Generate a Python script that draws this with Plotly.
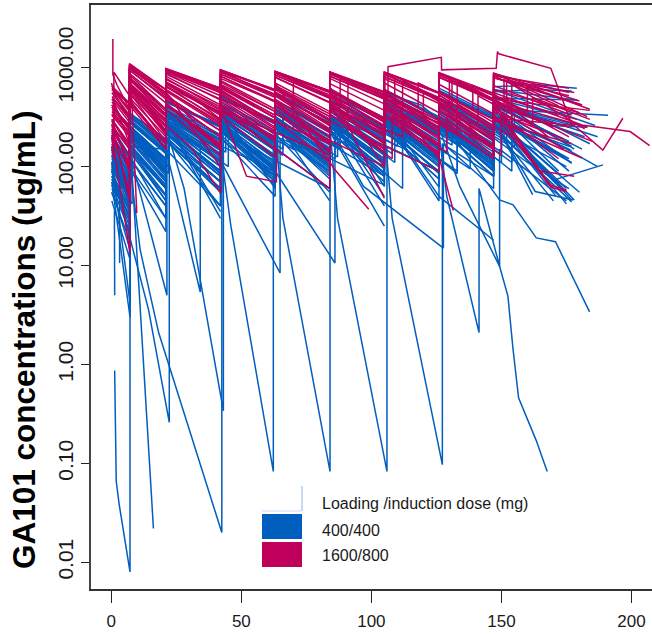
import plotly.graph_objects as go

# GA101 serum concentration-time profiles, one flat list per patient:
# [day, ug/mL, day, ug/mL, ...]

# 400/400 mg cohort, patients following the regular dosing pattern
blue_standard = [
    [0.2,180, 7,80, 7,320, 21,170, 21,400, 42,200, 42,430, 63,220, 63,450, 84,220, 84,460, 105,230, 105,470, 126,230, 126,480, 147,240, 147,490, 179,470],
    [0.3,120, 7,70, 7,220, 21,95, 21,300, 42,150, 42,340, 84,120, 84,330, 113,150, 113,350, 134,160, 134,360, 155,160, 155,360, 178,150],
    [0.1,90, 7,35, 7,210, 21,90, 21,270, 42,110, 42,300, 63,125, 63,310, 84,130, 84,320, 105,135, 105,320, 126,130, 126,330, 147,140, 147,330, 177,46],
    [0.5,230, 7,120, 7,320, 21,180, 21,450, 42,260, 42,520, 63,290, 63,560, 84,300, 84,580, 105,310, 105,600, 126,320, 126,620, 147,330, 147,640, 164,670, 179,620],
    [0.2,70, 7,28, 7,140, 21,50, 21,220, 42,80, 42,250, 63,95, 63,270, 84,100, 84,280, 105,105, 105,290, 133,90, 133,280, 154,110, 154,300, 177,108],
    [0.4,150, 7,60, 7,280, 21,135, 21,360, 42,170, 42,390, 63,190, 63,410, 84,195, 84,420, 105,200, 105,420, 126,205, 126,430, 147,210, 147,430, 183,250],
    [1,200, 7,100, 7,260, 14,160, 21,85, 21,300, 42,130, 42,330, 63,150, 63,350, 84,155, 84,360, 105,160, 105,370, 126,165, 126,370, 147,170, 147,380, 191,330],
    [0.3,100, 7,50, 7,185, 21,70, 21,260, 42,100, 42,280, 63,110, 63,290, 84,115, 84,300, 105,120, 105,310, 126,125, 126,310, 150,110, 150,300, 177,145],
    [0.2,160, 7,70, 7,290, 21,145, 21,350, 42,170, 42,380, 63,60, 63,280, 84,140, 84,330, 105,150, 105,350, 126,160, 126,360, 147,165, 147,370, 170,73, 189,104],
    [0.6,60, 7,33, 7,160, 21,60, 21,230, 42,80, 42,250, 63,90, 63,260, 84,95, 84,270, 105,95, 105,280, 126,100, 126,280, 147,100, 147,290, 163,56, 177.5,46],
    [0.2,210, 7,110, 7,310, 21,180, 21,450, 42,250, 42,500, 63,270, 63,530, 84,280, 84,540, 105,290, 105,560, 119,420, 126,300, 126,580, 147,310, 147,600, 179,470],
    [0.2,130, 7,50, 7,240, 21,105, 21,300, 42,35],
    [0.3,85, 7,38, 7,170, 21,60, 21,250, 42,90, 42,270, 63,100, 63,290, 84,45],
    [0.1,110, 7,55, 7,195, 14,120, 21,75, 21,280, 42,115, 42,300, 63,125, 63,320, 84,135, 84,330, 105,140, 105,340, 126,62, 126,280, 147,130, 147,330, 175,42],
    [0.4,175, 7,95, 7,280, 21,140, 21,400, 42,200, 42,430, 63,220, 63,450, 84,230, 84,460, 98,320, 105,235, 105,470, 126,240, 126,480, 147,240, 147,490, 172,330],
    [0.2,95, 7,20, 7,160, 21,45, 21,200, 42,60, 42,220, 84,60, 84,230, 105,70, 105,240, 126,75, 126,250, 147,80, 147,250, 175,100],
    [0.5,140, 7,70, 7,225, 21,95, 21,320, 42,145, 42,350, 63,160, 63,370, 84,170, 84,380, 105,175, 105,390, 126,180, 126,400, 140,260, 147,200, 147,420, 182,200],
    [0.2,45, 7,12, 7,130, 21,30, 21,190, 42,40, 42,200, 63,50, 63,215, 84,55, 84,225, 105,25],
    [0.3,250, 7,130, 7,350, 21,190, 21,460, 42,260, 42,520, 63,290, 63,550, 84,300, 84,570, 105,310, 105,580, 126,310, 126,590, 147,320, 147,600, 186,260],
    [0.2,75, 7,25, 7,150, 21,60, 21,215, 42,70, 42,240, 63,80, 63,250, 84,85, 84,260, 112,60, 112,240, 133,85, 133,250, 154,90, 154,260, 172,90],
    [1,190, 7,90, 7,330, 21,160, 21,380, 42,180, 42,400, 63,195, 63,410, 84,200, 84,420, 105,205, 105,430, 126,210, 126,430, 147,215, 147,440, 177,160],
    [0.2,125, 7,58, 7,215, 21,80, 21,290, 42,120, 42,310, 63,130, 63,320, 84,135, 84,330, 105,140, 105,340, 119,210, 126,145, 126,345, 147,150, 147,350, 170,140],
    [0.4,165, 7,80, 7,245, 21,115, 21,340, 42,165, 42,370, 70,150, 70,380, 91,180, 91,400, 112,190, 112,410, 133,195, 133,420, 154,200, 154,420, 184,170],
    [0.1,55, 7,18, 7,120, 21,40, 21,190, 42,55, 42,210, 63,65, 63,225, 105,65, 105,230, 126,75, 126,240, 147,80, 147,245, 177,44],
    [0.2,200, 7,95, 7,340, 21,170, 21,420, 42,210, 42,450, 63,230, 63,470, 84,235, 84,480, 105,240, 105,490, 126,245, 126,500, 147,250, 147,510, 164,320, 178,260],
    [0.3,140, 7,68, 7,235, 21,100, 21,340, 42,150, 42,370, 63,170, 63,390, 84,175, 84,400, 98,250, 105,175, 105,400, 126,180, 126,410, 147,185, 147,410, 176,180],
    [0.2,105, 7,48, 7,215, 21,88, 21,290, 42,30],
    [0.5,170, 7,85, 7,320, 21,155, 21,370, 42,180, 42,400, 63,190, 63,410, 84,195, 84,420, 105,63, 105,300, 126,150, 126,370, 147,170, 147,390, 187,100],
    [0.2,80, 7,36, 7,165, 21,62, 21,250, 42,90, 42,270, 63,100, 63,290, 84,105, 84,300, 105,110, 105,305, 126,110, 126,310, 147,115, 147,315, 171,50],
    [0.1,240, 7,125, 7,340, 21,190, 21,460, 42,250, 42,500, 63,270, 63,520, 84,280, 84,540, 105,290, 105,550, 126,290, 126,560, 147,300, 147,570, 164,600, 177,580],
    [0.3,115, 7,46, 7,220, 21,90, 21,265, 42,100, 42,290, 63,105, 63,300, 84,110, 84,310, 105,115, 105,315, 126,45, 126,260, 147,100, 147,300, 162,52],
    [0.2,150, 7,40, 7,220, 21,70, 21,260, 42,85, 42,280, 63,95, 63,290, 84,100, 84,300, 126,90, 126,290, 147,105, 147,300, 177,110],
    [0.6,185, 7,100, 7,280, 21,140, 21,380, 42,190, 42,410, 63,200, 63,420, 84,205, 84,430, 105,210, 105,440, 126,215, 126,450, 147,220, 147,460, 169,260, 183,250],
    [0.2,65, 7,22, 7,150, 21,52, 21,215, 42,70, 42,235, 63,75, 63,245, 84,80, 84,255, 105,85, 105,260, 126,88, 126,265, 147,90, 147,270, 163,120, 178,46],
    [0.3,135, 7,58, 7,235, 22,100, 22,310, 44,140, 44,330, 66,150, 66,340, 88,155, 88,350, 110,160, 110,360, 131,165, 131,365, 152,170, 152,370, 181,150],
    [0.2,95, 8,42, 8,200, 22,85, 22,270, 43,110, 43,290, 64,115, 64,300, 86,120, 86,310, 109,110, 109,300, 138,95, 138,290, 160,110, 176,60],
    [0.3,150, 7,75, 7,250, 21,120, 21,330, 42,160, 42,360, 63,175, 63,380, 88,150, 88,370, 109,190, 109,390, 130,195, 130,400, 151,200, 151,410, 187,200],
    [0.2,110, 7,50, 7,200, 21,85, 21,280, 45,100, 45,300, 66,130, 66,310, 87,125, 87,320, 108,135, 108,330, 129,135, 129,335, 150,140, 150,340, 176,90],
]

# 400/400 mg cohort, patients with rapid decline between doses
blue_fast_decline = [
    [1.3,0.87, 1.9,0.066, 3.0,0.039, 7.2,0.008, 7.2,95, 21,22, 21,180, 42,60, 42,260, 63,70],
    [1.2,36, 1.3,5.0],
    [0.4,140, 3.2,70, 3.2,10.6],
    [0.2,110, 4.7,14, 7.3,4.0, 7.3,140, 21,45, 21,220, 42,70, 42,240, 63,85, 63,250, 84,90, 84,260, 105,95, 105,270, 126,100, 126,280, 147,105, 147,290, 173,62],
    [0.3,95, 14.3,3.6, 22.3,0.26, 22.3,170, 42.5,55, 42.5,230, 63,80, 63,260, 84,100, 84,280, 105,110, 105,290, 126,115, 126,300, 147,120, 147,310, 175,60],
    [0.2,130, 7,60, 7,234, 16.2,0.022],
    [0.2,150, 7,45, 7,110, 11.1,14.4, 18.2,2.1, 42.5,0.02, 42.5,160, 63,90, 63,300, 84,120, 84,320, 105,40],
    [0.3,120, 7,55, 7,140, 21.4,5.0, 21.4,190, 42,70, 42,260, 63,95, 63,280, 84,105, 84,290, 105,110, 105,300, 126,115, 126,310, 147,120, 147,320, 176,120],
    [0.2,90, 7,30, 7,160, 21,150, 34.2,5.4, 34.2,200, 42,100, 42,300, 63,120, 63,320, 84,130, 84,330, 105,50],
    [0.3,170, 7,80, 7,260, 21,120, 21,250, 28,60, 43.1,0.34, 43.1,180, 63,80, 63,280, 84,110, 84,300, 105,120, 105,320, 126,50, 147,18],
    [0.3,60, 7,15, 7,100, 21,30, 21,150, 42,40, 42,150, 46,25, 62.3,0.083, 62.3,160, 84,60, 84,220, 105,80, 105,240, 126,90, 126,250, 147,95, 147,260, 168,70],
    [0.2,100, 7,40, 7,190, 21,75, 21,250, 42,115, 64.9,8.4, 64.9,190, 84,90, 84,300, 105,110, 105,310, 126,120, 126,320, 147,125, 147,330, 176,150],
    [0.4,125, 7,58, 7,230, 21,95, 21,300, 42,125, 42,320, 63,130, 63,250, 66,30, 84.1,0.083, 84.1,170, 105,80, 105,290, 126,105, 126,300, 147,110, 147,310, 180,55],
    [0.2,80, 7,30, 7,170, 21,65, 21,240, 42,90, 42,260, 63,90, 86,10.6, 86,200, 105,100, 105,300, 126,120, 126,310, 147,130, 147,320, 172,85],
    [0.3,140, 7,65, 7,250, 21,110, 21,320, 42,135, 42,340, 63,145, 63,350, 84,150, 84,260, 87,30, 106,0.083, 106,160, 126,90, 126,300, 147,110, 147,310, 175,120],
    [0.2,170, 7,85, 7,290, 21,140, 21,360, 42,170, 42,380, 63,180, 63,390, 84,185, 84,400, 105,190, 105,240, 108,30, 127.3,0.097, 127.3,170, 147,80, 147,300, 176,160],
    [0.3,105, 7,46, 7,210, 21,85, 21,280, 42,110, 42,300, 63,120, 63,320, 84,125, 84,330, 105,130, 105,340, 126,135, 126,220, 129,50, 141.4,2.1, 141.4,60, 149.3,9.8, 149.3,150, 175,45],
    [0.2,190, 7,95, 7,300, 21,150, 21,370, 42,185, 42,400, 63,195, 63,410, 84,200, 84,420, 105,205, 105,430, 126,210, 126,250, 134,63, 149.3,9.8, 152.5,4.9, 154.5,1.4, 156.6,0.46, 163.4,0.17, 167.6,0.083],
    [0.3,75, 7,32, 7,165, 21,62, 21,240, 42,85, 42,265, 63,95, 63,280, 84,100, 84,290, 105,105, 105,300, 126,120, 126,320, 149.3,46, 154.5,41, 163.4,19, 170.8,17.4, 183.9,3.4],
    [0.2,70, 7.2,3.0, 7.2,120, 21,40, 21,200, 42,60, 42,230, 63,70, 63,245, 84,75, 84,255, 105,80, 105,265, 126,85, 126,275, 147,90, 147,285, 174,56],
    [0.4,155, 7,70, 7,260, 21,120, 21,330, 42,150, 42,350, 63,160, 63,360, 84,165, 84,250, 97,63, 127.7,15, 127.7,170, 147,60, 147,250, 170,45],
]

# 1600/800 mg cohort, regular dosing pattern
red_standard = [
    [0.3,450, 7,230, 7,800, 21,380, 21,760, 42,400, 42,740, 63,380, 63,700, 84,360, 84,690, 105,370, 105,700, 126,350, 126,680, 147,340, 147,660, 177,330],
    [0.2,300, 7,150, 7,560, 21,220, 21,520, 42,230, 42,480, 84,170, 84,400, 112,200, 112,430, 133,210, 133,420, 154,200, 154,410, 183,250],
    [0.5,560, 7,330, 7,1000, 21,520, 21,940, 42,560, 42,920, 63,520, 63,880, 84,500, 84,860, 105,520, 105,870, 126,490, 126,840, 147,480, 147,830, 176,620],
    [0.2,480, 7,280, 7,760, 21,330, 21,700, 42,340, 42,640, 63,310, 63,620, 84,300, 84,600, 105,290, 105,600, 126,300, 126,580, 147,280, 147,560, 181,263, 199.5,226, 207,163],
    [0.4,240, 7,110, 7,460, 21,170, 21,420, 42,160, 42,380, 84,130, 84,340, 105,150, 105,330, 126,140, 126,320, 147,150, 147,310, 178,260, 189,147, 196.7,308],
    [0.2,330, 7,200, 7,620, 21,260, 21,600, 42,270, 42,560, 63,250, 63,540, 84,240, 84,520, 105,230, 105,510, 126,220, 126,500, 147,150, 147,450, 169,62, 175,56],
    [0.5,600, 7,360, 7,1050, 21,560, 21,960, 42,600, 42,940, 63,580, 63,900, 84,560, 84,900, 105,540, 105,880, 126,550, 126,870, 147,520, 147,860, 184,380],
    [0.2,400, 7,260, 7,700, 21,330, 21,700, 42,350, 42,640, 63,330, 63,620, 84,320, 84,600, 105,310, 105,600, 118,400, 118,700, 139,380, 139,660, 160,360, 160,640, 181,420],
    [0.3,220, 7,90, 7,420, 21,150, 21,380, 42,130, 42,330, 63,125, 63,300, 84,110, 84,290, 126,90, 126,280, 147,120, 147,300, 181,122],
    [0.1,700, 1,560, 1,900, 7,520, 7,1000, 21,600, 21,980, 42,620, 42,950, 63,600, 63,920, 84,580, 84,900, 105,560, 105,900, 126,560, 126,880, 147,550, 147,870, 176,560],
    [0.2,300, 7,170, 7,600, 14,400, 21,230, 21,580, 42,260, 42,540, 63,240, 63,520, 84,230, 84,500, 105,220, 105,490, 126,230, 126,480, 147,210, 147,470, 170,250],
    [0.4,500, 7,300, 7,950, 21,480, 21,880, 42,470, 42,820, 63,450, 63,800, 88,400, 88,780, 109,430, 109,770, 130,420, 130,760, 151,410, 151,750, 178,560],
    [0.3,360, 7,210, 7,640, 21,280, 21,640, 63,200, 63,560, 84,270, 84,540, 105,260, 105,530, 120,330, 120,560, 141,270, 141,520, 162,260, 162,500, 184,300],
    [0.2,420, 7,240, 7,870, 21,440, 21,820, 42,420, 42,780, 70,380, 70,760, 91,420, 91,750, 112,410, 112,740, 133,400, 133,730, 154,390, 154,720, 183,320],
    [0.3,260, 7,150, 7,500, 21,200, 21,480, 42,200, 42,430, 63,180, 63,410, 84,170, 84,400, 92,260, 105,150, 105,380, 126,160, 126,370, 147,150, 147,360, 174,190],
    [0.2,600, 7,430, 7,980, 21,560, 21,960, 42,580, 42,900, 63,540, 63,880, 84,530, 84,860, 105,520, 105,850, 126,500, 126,840, 140,600, 147,480, 147,830, 172,410],
    [0.5,280, 7,95, 7,470, 21,170, 21,430, 42,150, 42,380, 63,150, 63,340, 105,100, 105,320, 126,130, 126,300, 147,120, 147,290, 177,170],
    [0.2,420, 7,240, 7,760, 21,380, 21,720, 42,370, 42,680, 63,360, 63,660, 84,340, 84,640, 105,100, 105,440, 126,280, 126,560, 147,300, 147,600, 180,350],
    [0.3,230, 7,130, 7,440, 21,170, 21,420, 42,170, 42,380, 63,150, 63,350, 84,140, 84,340, 108,120, 108,320, 129,140, 129,330, 150,130, 150,320, 165,90, 178,80],
    [0.2,560, 7,320, 7,1000, 21,540, 21,900, 42,520, 42,860, 63,500, 63,840, 84,490, 84,820, 105,480, 105,810, 126,470, 126,800, 147,460, 147,790, 176,520],
    [0.4,360, 7,220, 7,650, 21,300, 21,640, 42,300, 42,580, 63,280, 63,560, 84,270, 84,540, 105,260, 105,530, 147,160, 147,480, 184,370],
    [0.3,510, 7,310, 7,940, 21,500, 21,860, 42,480, 42,820, 63,460, 63,800, 84,440, 84,780, 105,430, 105,770, 131,380, 131,740, 152,400, 152,730, 182,240],
    [0.6,400, 7,250, 7,680, 21,320, 21,680, 35,420, 42,300, 42,620, 63,310, 63,600, 84,290, 84,580, 105,280, 105,570, 126,270, 126,560, 147,260, 147,550, 168,200],
    [0.3,620, 7,380, 7,1080, 21,600, 21,980, 42,620, 42,950, 63,600, 63,920, 84,580, 84,910, 105,570, 105,900, 126,560, 126,890, 147,550, 147,880, 180,460],
    [0.1,200, 1,150, 1,560, 7,300, 7,700, 21,290, 21,660, 42,290, 42,600, 63,270, 63,570, 84,260, 84,550, 105,250, 105,540, 126,250, 126,530, 147,240, 147,520, 179,300],
    [0.1,160, 1,120, 1,450, 7,170, 7,620, 21,250, 21,520, 42,230, 42,480, 63,210, 63,450, 84,200, 84,440, 105,200, 105,430, 126,190, 126,420, 147,180, 147,410, 176,250],
]

# 1600/800 mg cohort, atypical profiles (low troughs, early stops, high peaks)
red_atypical = [
    [0.6,1950, 0.6,850, 2.2,668, 7,380, 7,1050, 21,550, 21,920, 42,560, 42,860, 63,520, 63,840, 84,500, 84,820, 105,490, 105,810, 126,480, 126,800, 147,470, 147,790, 181,420],
    [0.2,210, 7.2,13.4, 7.2,640, 21,220, 21,600, 42,280, 42,580, 63,270, 63,560, 84,260, 84,550, 105,250, 105,540, 126,240, 126,530, 147,230, 147,520, 176,200],
    [0.3,620, 7.5,420, 7.5,820, 9.8,34],
    [0.4,300, 7,160, 7,680, 21,260, 30.4,160, 42,54, 42,500, 63,230, 63,480, 84,220, 84,470, 105,210, 105,460, 126,200, 126,450, 147,200, 147,440, 185,180],
    [0.2,260, 7,150, 7,620, 21,230, 21,560, 42,150, 42,400, 52,80, 63.5,70, 63.5,150, 84,60, 84,380, 105,180, 105,400, 126,200, 126,420, 147,190, 147,410, 168,66, 175,58],
    [0.3,400, 7,260, 7,850, 21,380, 21,780, 42,380, 42,720, 63,360, 63,700, 86,93, 99,37],
    [0.2,650, 7,440, 7,1100, 21,600, 21,950, 42,620, 42,920, 63,600, 63,900, 84,580, 84,880, 106.4,500, 106.4,1023, 126.9,1270, 127,950, 148,986, 148.5,1452, 149,1380, 169,986, 177.3,254],
    [0.3,380, 7,240, 7,780, 21,360, 21,700, 42,350, 42,660, 63,330, 63,640, 84,320, 84,620, 105,300, 105,600, 126.3,117, 131.5,36],
    [0.2,230, 7,54, 7,560, 21,180, 21,500, 42,200, 42,460, 63,190, 63,440, 84,180, 84,430, 105,175, 105,420, 126,170, 126,410, 147,160, 147,400, 174,150],
    [0.2,290, 7,100, 7,600, 21,210, 21,560, 42,100, 42,420, 63,180, 63,420, 84,175, 84,410, 105,170, 105,400, 126,165, 126,390, 147,160, 147,380, 172,120],
    [0.2,340, 7,220, 7,760, 21,340, 21,700, 42,330, 42,650, 63,310, 63,630, 84,300, 84,610, 105,48],
    [0.2,270, 7,45, 7,480, 21,150, 21,440, 42,160, 42,400, 63,150, 63,380, 84,145, 84,370, 105,140, 105,360, 126,135, 126,350, 147,130, 147,340, 170,60],
]

x_ticks = [0, 50, 100, 150, 200]
y_ticks = [1000, 100, 10, 1, 0.1, 0.01]
y_tick_labels = ["1000.00", "100.00", "10.00", "1.00", "0.10", "0.01"]

legend_title = "Loading /induction dose (mg)"
group_labels = ["400/400", "1600/800"]

BLUE = "#005EBE"
RED = "#BE005A"

W, H = 652, 634
M_L, M_R, M_T, M_B = 91, 0, 5, 45
PLOT_W = W - M_L - M_R
PLOT_H = H - M_T - M_B


def flatten(profiles):
    xs, ys = [], []
    for p in profiles:
        xs += list(p[0::2]) + [None]
        ys += list(p[1::2]) + [None]
    return xs, ys


def px_x(px):
    return (px - M_L) / PLOT_W


def px_y(py):
    return (H - M_B - py) / PLOT_H


fig = go.Figure()
for profiles, color in [(blue_standard + blue_fast_decline, BLUE),
                        (red_standard + red_atypical, RED)]:
    xs, ys = flatten(profiles)
    fig.add_trace(go.Scatter(
        x=xs, y=ys, mode="lines", connectgaps=False,
        line=dict(color=color, width=1.5),
        hoverinfo="skip", showlegend=False,
    ))

font_family = "Liberation Sans, Arial, sans-serif"

fig.update_layout(
    width=W, height=H,
    margin=dict(l=M_L, r=M_R, t=M_T, b=M_B, pad=0),
    paper_bgcolor="white", plot_bgcolor="white",
    showlegend=False,
    xaxis=dict(
        range=[-7.8, 207.9], tickvals=x_ticks, automargin=False,
        ticks="outside", ticklen=12, tickwidth=1.3, tickcolor="#222",
        showline=True, mirror=True, linecolor="#333", linewidth=1.6,
        showgrid=False, zeroline=False,
        tickfont=dict(family=font_family, size=17, color="#1a1a1a"),
        ticklabelstandoff=4,
    ),
    yaxis=dict(
        type="log", range=[-2.2697, 3.6333], automargin=False,
        tickvals=y_ticks, ticktext=y_tick_labels, tickangle=-90,
        ticks="outside", ticklen=8, tickwidth=1.3, tickcolor="#222",
        showline=True, mirror=False, linecolor="#444", linewidth=1.6,
        showgrid=False, zeroline=False,
        tickfont=dict(family=font_family, size=21, color="#1a1a1a"),
    ),
)

# y-axis title
fig.add_annotation(
    text="<b>GA101 concentrations (ug/mL)</b>", textangle=-90,
    xref="paper", yref="paper", x=px_x(24), y=px_y(340),
    xanchor="center", yanchor="middle", showarrow=False,
    font=dict(family=font_family, size=31.5, color="black"),
)

# legend: header row with an empty swatch, then one filled swatch per cohort
sw_x0, sw_x1 = 262, 302
fig.add_shape(type="line", xref="paper", yref="paper",
              x0=px_x(sw_x1), x1=px_x(sw_x1), y0=px_y(486), y1=px_y(511),
              line=dict(color="#8fb4e0", width=1))
fig.add_shape(type="line", xref="paper", yref="paper",
              x0=px_x(sw_x0), x1=px_x(sw_x1), y0=px_y(511), y1=px_y(511),
              line=dict(color="#c9daef", width=1))
rows = [(514, 539, BLUE), (542, 567, RED)]
for (y0, y1, col) in rows:
    fig.add_shape(type="rect", xref="paper", yref="paper",
                  x0=px_x(sw_x0), x1=px_x(sw_x1), y0=px_y(y1), y1=px_y(y0),
                  line=dict(width=0), fillcolor=col)

text_rows = [(legend_title, 503), (group_labels[0], 530), (group_labels[1], 555)]
for label, yc in text_rows:
    fig.add_annotation(
        text=label, xref="paper", yref="paper", x=px_x(320), y=px_y(yc),
        xanchor="left", yanchor="middle", showarrow=False,
        font=dict(family=font_family, size=16, color="#1a1a1a"),
    )

fig.write_html("out.html")
